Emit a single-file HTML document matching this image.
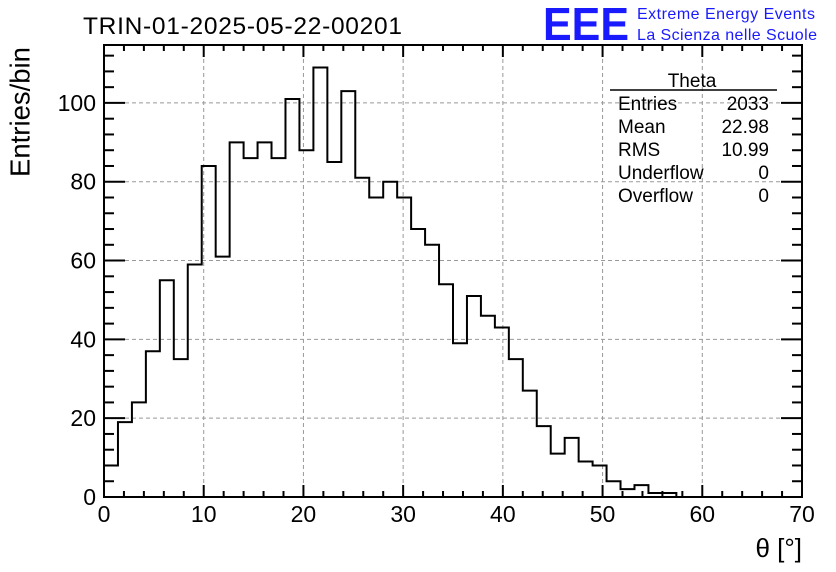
<!DOCTYPE html>
<html><head><meta charset="utf-8"><style>
body{margin:0;background:#fff;}
svg{display:block;font-family:"Liberation Sans",sans-serif;}
</style></head><body>
<svg id="c" width="836" height="572" xmlns="http://www.w3.org/2000/svg">
<rect width="836" height="572" fill="#fff"/>
<text x="83" y="34" font-size="24.5" textLength="319">TRIN-01-2025-05-22-00201</text>
<text x="543" y="40" font-size="46" font-weight="bold" fill="#1a1aff" textLength="86" lengthAdjust="spacingAndGlyphs">EEE</text>
<text x="637" y="19" font-size="16" fill="#1a1aff" textLength="178">Extreme Energy Events</text>
<text x="637" y="40" font-size="16" fill="#1a1aff" textLength="180">La Scienza nelle Scuole</text>
<g id="grid"></g>
<path id="hist" fill="none" stroke="#000" stroke-width="2"/>
<g id="axes"></g>
<rect x="104" y="45" width="698" height="452" fill="none" stroke="#000" stroke-width="2"/>
<text x="22" y="112" font-size="27.5" text-anchor="middle" transform="rotate(-90 22 112)" dominant-baseline="middle">Entries/bin</text>
<text x="802" y="557" font-size="26" text-anchor="end">θ [°]</text>
<g font-size="19">
<line x1="610" y1="90" x2="777" y2="90" stroke="#000" stroke-width="1.5"/>
<text x="692" y="87" text-anchor="middle">Theta</text>
<text x="618" y="110">Entries</text><text x="769" y="110" text-anchor="end">2033</text>
<text x="618" y="133">Mean</text><text x="769" y="133" text-anchor="end">22.98</text>
<text x="618" y="156">RMS</text><text x="769" y="156" text-anchor="end">10.99</text>
<text x="618" y="179">Underflow</text><text x="769" y="179" text-anchor="end">0</text>
<text x="618" y="202">Overflow</text><text x="769" y="202" text-anchor="end">0</text>
</g>
</svg>
<script>
const counts=[8,19,24,37,55,35,59,84,61,90,86,90,86,101,88,109,85,103,81,76,80,76,68,64,54,39,51,46,43,35,27,18,11,15,9,8,4,2,3,1,1,0,0,0,0,0,0,0,0,0];
const xTicks=[0,10,20,30,40,50,60,70];
const yTicks=[0,20,40,60,80,100];
const binWidth=1.4;
const X0=104,X1=802,Y0=497,Y1=45,XMAX=70,YMAX=114.7;
const sx=v=>X0+(X1-X0)*v/XMAX;
const sy=v=>Y0-(Y0-Y1)*v/YMAX;
const NS="http://www.w3.org/2000/svg";
function mk(t,a,p){const e=document.createElementNS(NS,t);for(const k in a)e.setAttribute(k,a[k]);p.appendChild(e);return e;}
const grid=document.getElementById('grid'),axes=document.getElementById('axes');
xTicks.slice(1,-1).forEach(v=>{const l=mk('line',{x1:sx(v),x2:sx(v),y1:Y1,y2:Y0,stroke:'#999','stroke-dasharray':'4,3'},grid);

});
yTicks.slice(1).forEach(v=>{const l=mk('line',{x1:X0,x2:X1,y1:sy(v),y2:sy(v),stroke:'#999','stroke-dasharray':'4,3'},grid);

});
let d='M'+sx(0)+','+Y0;
counts.forEach((c,i)=>{const y=sy(c);d+=' L'+sx(i*binWidth)+','+y+' L'+sx((i+1)*binWidth)+','+y;});
d+=' L'+sx(counts.length*binWidth)+','+Y0;
document.getElementById('hist').setAttribute('d',d);
for(let v=0;v<=70;v+=2){const maj=v%10===0,L=maj?12:6;
mk('line',{x1:sx(v),x2:sx(v),y1:Y0,y2:Y0-L,stroke:'#000','stroke-width':2},axes);
mk('line',{x1:sx(v),x2:sx(v),y1:Y1,y2:Y1+L,stroke:'#000','stroke-width':2},axes);}
xTicks.forEach(v=>{const t=mk('text',{x:sx(v),y:522,'font-size':23,'text-anchor':'middle'},axes);t.textContent=v;

});
for(let v=0;v<=112;v+=4){const maj=v%20===0,L=maj?21:10;
mk('line',{x1:X0,x2:X0+L,y1:sy(v),y2:sy(v),stroke:'#000','stroke-width':2},axes);
mk('line',{x1:X1,x2:X1-L,y1:sy(v),y2:sy(v),stroke:'#000','stroke-width':2},axes);}
yTicks.forEach(v=>{const t=mk('text',{x:96,y:sy(v)+8,'font-size':23,'text-anchor':'end'},axes);t.textContent=v;

});
</script>
</body></html>
